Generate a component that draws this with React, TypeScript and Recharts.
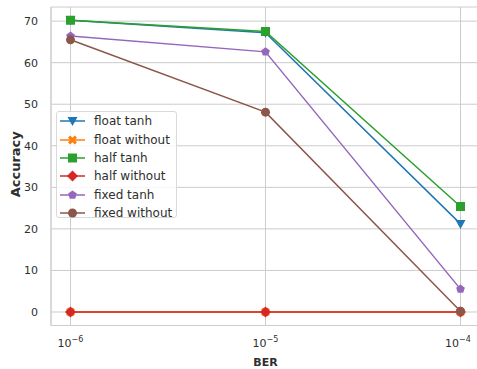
import { LineChart, Line, XAxis, YAxis, CartesianGrid } from 'recharts'

const ber = [1e-6, 1e-5, 1e-4]
const floatTanh = [70.2, 67.2, 21.2]
const floatWithout = [0, 0, 0]
const halfTanh = [70.2, 67.5, 25.4]
const halfWithout = [0, 0, 0]
const fixedTanh = [66.4, 62.6, 5.5]
const fixedWithout = [65.5, 48.1, 0.2]
const yTicks = [0, 10, 20, 30, 40, 50, 60, 70]
const xTicks = [1e-6, 1e-5, 1e-4]

const series = [
  { key: 'floatTanh', name: 'float tanh', color: '#1f77b4', marker: 'v', values: floatTanh },
  { key: 'floatWithout', name: 'float without', color: '#ff7f0e', marker: 'X', values: floatWithout },
  { key: 'halfTanh', name: 'half tanh', color: '#2ca02c', marker: 's', values: halfTanh },
  { key: 'halfWithout', name: 'half without', color: '#d62728', marker: 'D', values: halfWithout },
  { key: 'fixedTanh', name: 'fixed tanh', color: '#9467bd', marker: 'p', values: fixedTanh },
  { key: 'fixedWithout', name: 'fixed without', color: '#8c564b', marker: 'o', values: fixedWithout },
]

const data = ber.map((b, i) => {
  const row: any = { ber: b }
  series.forEach(s => { row[s.key] = s.values[i] })
  return row
})

const font = '"DejaVu Sans", sans-serif'
const textColor = '#2e2e2e'
const gridColor = '#cccccc'
const xDomain = [Math.pow(10, -6.1), Math.pow(10, -3.9)]
const yDomain = [-3.25, 73.4]

function markerPath(m: string, x: number, y: number) {
  switch (m) {
    case 'v':
      return `M${x - 5},${y - 4} L${x + 5},${y - 4} L${x},${y + 5} Z`
    case 's':
      return `M${x - 4.5},${y - 4.5} h9 v9 h-9 Z`
    case 'D':
      return `M${x},${y - 5.5} L${x + 5.5},${y} L${x},${y + 5.5} L${x - 5.5},${y} Z`
    case 'X': {
      const a = 4.5, t = 2.2
      return `M${x - a},${y - a + t} L${x - a + t},${y - a} L${x},${y - t} L${x + a - t},${y - a} L${x + a},${y - a + t} L${x + t},${y} L${x + a},${y + a - t} L${x + a - t},${y + a} L${x},${y + t} L${x - a + t},${y + a} L${x - a},${y + a - t} L${x - t},${y} Z`
    }
    case 'p': {
      const r = 4.6
      const pts = [0, 1, 2, 3, 4].map(k => {
        const ang = -Math.PI / 2 + (k * 2 * Math.PI) / 5
        return `${x + r * Math.cos(ang)},${y + r * Math.sin(ang)}`
      })
      return `M${pts.join(' L')} Z`
    }
    default: {
      const r = 4.5
      return `M${x - r},${y} a${r},${r} 0 1,0 ${2 * r},0 a${r},${r} 0 1,0 ${-2 * r},0`
    }
  }
}

const makeDot = (m: string, color: string) => (props: any) => {
  const { cx, cy, index } = props
  if (cx == null || cy == null) return <g key={index} />
  return <path key={index} d={markerPath(m, cx, cy)} fill={color} stroke="none" />
}

const XTick = (props: any) => {
  const { x, y, payload } = props
  const exp = Math.round(Math.log10(payload.value))
  return (
    <text x={x} y={y + 13} textAnchor="middle" fontFamily={font} fontSize={11} fill={textColor}>
      <tspan>10</tspan>
      <tspan dy={-5} fontSize={8}>{'\u2212' + Math.abs(exp)}</tspan>
    </text>
  )
}

const YLabel = (props: any) => {
  const { viewBox } = props
  const cy = viewBox.y + viewBox.height / 2 - 2
  return (
    <text x={15} y={cy} transform={`rotate(-90, 15, ${cy})`} textAnchor="middle" dominantBaseline="central"
      fontFamily={font} fontSize={13} fontWeight="bold" fill={textColor}>
      Accuracy
    </text>
  )
}

function LegendBox() {
  return (
    <div
      style={{
        position: 'absolute', left: 56, top: 111, width: 121, height: 107,
        background: 'rgba(255,255,255,0.8)', border: '1px solid #d9d9d9', borderRadius: 3,
        fontFamily: font, fontSize: 12, color: textColor, boxSizing: 'border-box',
      }}
    >
      {series.map(s => (
        <div key={s.key} style={{ height: 18.4, display: 'flex', alignItems: 'center' }}>
          <svg width={37} height={18} style={{ flex: 'none' }}>
            <line x1={3} y1={9} x2={28} y2={9} stroke={s.color} strokeWidth={1.5} />
            <path d={markerPath(s.marker, 15.5, 9)} fill={s.color} />
          </svg>
          <span style={{ whiteSpace: 'nowrap' }}>{s.name}</span>
        </div>
      ))}
    </div>
  )
}

export default function App() {
  return (
    <div style={{ position: 'absolute', left: 0, top: 0, width: 477, height: 369, overflow: 'hidden', background: '#fff' }}>
      <LineChart width={480} height={369} data={data} margin={{ top: 7, right: 0, left: 0, bottom: 0 }}>
        <CartesianGrid stroke={gridColor} strokeWidth={1} />
        <XAxis
          dataKey="ber"
          type="number"
          scale="log"
          domain={xDomain}
          ticks={xTicks}
          tick={<XTick />}
          tickLine={false}
          axisLine={{ stroke: gridColor }}
          height={43.5}
          allowDataOverflow
          label={{ value: 'BER', position: 'insideBottom', offset: 3, fontFamily: font, fontSize: 11, fontWeight: 'bold', fill: textColor }}
        />
        <XAxis
          xAxisId="top"
          orientation="top"
          dataKey="ber"
          type="number"
          scale="log"
          domain={xDomain}
          ticks={[]}
          tick={false}
          tickLine={false}
          axisLine={{ stroke: gridColor }}
          height={0}
          allowDataOverflow
        />
        <YAxis
          type="number"
          domain={yDomain}
          ticks={yTicks}
          tickLine={false}
          axisLine={{ stroke: gridColor }}
          width={51}
          allowDataOverflow
          tick={{ fontFamily: font, fontSize: 11, fill: textColor }}
          tickMargin={7}
          label={<YLabel />}
        />
        {series.map(s => (
          <Line
            key={s.key}
            type="linear"
            dataKey={s.key}
            name={s.name}
            stroke={s.color}
            strokeWidth={1.5}
            dot={makeDot(s.marker, s.color)}
            activeDot={false}
            isAnimationActive={false}
          />
        ))}
      </LineChart>
      <LegendBox />
    </div>
  )
}
